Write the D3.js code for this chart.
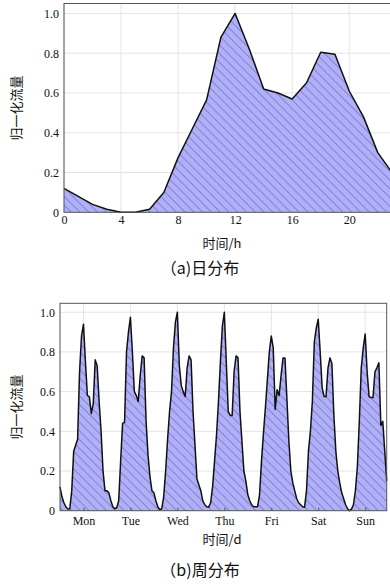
<!DOCTYPE html>
<html><head><meta charset="utf-8">
<script src="https://cdn.jsdelivr.net/npm/d3@7"></script>
<style>
html,body{margin:0;padding:0;background:#fff;}
svg{display:block;}
.tick text{font-family:"Liberation Serif","Times New Roman",serif;font-size:12px;fill:#111;}
.cjk{font-family:"Noto Sans CJK SC",sans-serif;fill:#111;}
</style></head>
<body>
<script>
// ---- data ----
const hours = d3.range(0, 24);
const dailyFlow = [0.12,0.08,0.04,0.015,0.0,0.0,0.015,0.10,0.275,0.42,0.565,0.88,1.0,0.82,0.62,0.60,0.57,0.65,0.805,0.795,0.61,0.48,0.30,0.20];
const dailyTicks = [0,4,8,12,16,20];
const yTicks = [0,0.2,0.4,0.6,0.8,1.0];

const dayNames = ["Mon","Tue","Wed","Thu","Fri","Sat","Sun"];
const monFlow = [0.12,0.07,0.04,0.02,0.008,0.01,0.10,0.30,0.33,0.36,0.70,0.88,0.94,0.75,0.58,0.575,0.49,0.54,0.76,0.73,0.55,0.40,0.20,0.10];
const tueFlow = [0.10,0.09,0.05,0.02,0.01,0.015,0.05,0.25,0.44,0.445,0.80,0.90,0.975,0.80,0.60,0.58,0.55,0.68,0.78,0.77,0.45,0.28,0.17,0.10];
const wedFlow = [0.09,0.05,0.02,0.005,0.01,0.07,0.20,0.36,0.50,0.60,0.82,0.95,1.0,0.73,0.63,0.60,0.575,0.72,0.78,0.76,0.50,0.33,0.16,0.13];
const thuFlow = [0.10,0.05,0.03,0.02,0.018,0.04,0.12,0.25,0.38,0.55,0.75,0.93,1.0,0.75,0.50,0.48,0.48,0.70,0.78,0.77,0.50,0.35,0.20,0.15];
const friFlow = [0.08,0.05,0.03,0.02,0.02,0.02,0.08,0.25,0.39,0.52,0.66,0.80,0.88,0.82,0.51,0.61,0.58,0.68,0.77,0.77,0.56,0.35,0.20,0.14];
const satFlow = [0.10,0.06,0.04,0.03,0.02,0.017,0.10,0.30,0.40,0.55,0.85,0.92,0.965,0.80,0.62,0.575,0.575,0.72,0.77,0.74,0.48,0.30,0.20,0.14];
const sunFlow = [0.09,0.06,0.03,0.01,0.0,0.008,0.03,0.10,0.22,0.45,0.72,0.82,0.89,0.70,0.575,0.57,0.57,0.70,0.72,0.745,0.43,0.45,0.30,0.15];
const weeklyFlow = [].concat(monFlow,tueFlow,wedFlow,thuFlow,friFlow,satFlow,sunFlow);
const weekTicks = dayNames.map((d,i)=>i*24+12);

const W = 390, H = 586;
const svg = d3.select("body").append("svg").attr("width",W).attr("height",H);

const defs = svg.append("defs");
const pat = defs.append("pattern").attr("id","hatch").attr("patternUnits","userSpaceOnUse")
  .attr("width",6.2).attr("height",6.2).attr("patternTransform","rotate(45)");
pat.append("rect").attr("width",6.2).attr("height",6.2).attr("fill","#b0b0f6");
pat.append("line").attr("x1",0).attr("y1",0.5).attr("x2",6.2).attr("y2",0.5)
  .attr("stroke","#7c7cdc").attr("stroke-width",0.9);

function panel(opts){
  const {xs, data, xDomain, xRange, yRange, xTicks, xFmt, ymax, yLabelX, xLabel, xLabelY, title, titleY, tickMarks} = opts;
  const x = d3.scaleLinear().domain(xDomain).range(xRange);
  const y = d3.scaleLinear().domain([0, ymax]).range(yRange);
  const g = svg.append("g");
  const [x0,x1] = xRange, [yb,yt] = yRange;
  // grid
  g.append("g").selectAll("line").data(xTicks).join("line")
    .attr("x1",d=>x(d)).attr("x2",d=>x(d)).attr("y1",yt).attr("y2",yb)
    .attr("stroke","#e4e4e4").attr("stroke-width",1);
  g.append("g").selectAll("line").data(yTicks.slice(1)).join("line")
    .attr("x1",x0).attr("x2",x1).attr("y1",d=>y(d)).attr("y2",d=>y(d))
    .attr("stroke","#e4e4e4").attr("stroke-width",1);
  // area & line
  const pts = xs.map((v,i)=>[v,data[i]]);
  g.append("path").datum(pts)
    .attr("d", d3.area().x(d=>x(d[0])).y0(y(0)).y1(d=>y(d[1])))
    .attr("fill","url(#hatch)");
  g.append("path").datum(pts)
    .attr("d", d3.line().x(d=>x(d[0])).y(d=>y(d[1])))
    .attr("fill","none").attr("stroke","#111").attr("stroke-width",1.5).attr("stroke-linejoin","round");
  // frame
  g.append("rect").attr("x",x0).attr("y",yt).attr("width",x1-x0).attr("height",yb-yt)
    .attr("fill","none").attr("stroke","#555").attr("stroke-width",1);
  // axes
  const xa = g.append("g").attr("transform",`translate(0,${yb})`)
    .call(d3.axisBottom(x).tickValues(xTicks).tickFormat(xFmt).tickSize(tickMarks? -3:0).tickPadding(tickMarks?6:3));
  xa.select(".domain").remove();
  xa.selectAll(".tick line").attr("stroke","#555");
  const ya = g.append("g").attr("transform",`translate(${x0},0)`)
    .call(d3.axisLeft(y).tickValues(yTicks).tickFormat(d=>d===0?"0":d3.format(".1f")(d)).tickSize(0).tickPadding(5));
  ya.select(".domain").remove();
  // labels
  g.append("text").attr("class","cjk").attr("transform",`translate(${yLabelX},${(yb+yt)/2}) rotate(-90)`)
    .attr("text-anchor","middle").attr("dominant-baseline","middle").attr("font-size",13).text("归一化流量");
  g.append("text").attr("class","cjk").attr("x",222).attr("y",xLabelY)
    .attr("text-anchor","middle").attr("dominant-baseline","middle").attr("font-size",13).text(xLabel);
  g.append("text").attr("class","cjk").attr("x",200).attr("y",titleY)
    .attr("text-anchor","middle").attr("dominant-baseline","middle").attr("font-size",16).text(title);
}

panel({xs:hours, data:dailyFlow, xDomain:[0,23], xRange:[64,392], yRange:[212.3,3.5], xTicks:dailyTicks,
  xFmt:d=>d, ymax:1.05, yLabelX:17, xLabel:"时间/h", xLabelY:244, title:"（a)日分布", titleY:270, tickMarks:false});

panel({xs:d3.range(0,168), data:weeklyFlow, xDomain:[0,167], xRange:[60,386.7], yRange:[510.7,303.3], xTicks:weekTicks,
  xFmt:(d,i)=>dayNames[i], ymax:1.045, yLabelX:17, xLabel:"时间/d", xLabelY:540, title:"（b)周分布", titleY:572, tickMarks:true});
</script>
</body></html>
